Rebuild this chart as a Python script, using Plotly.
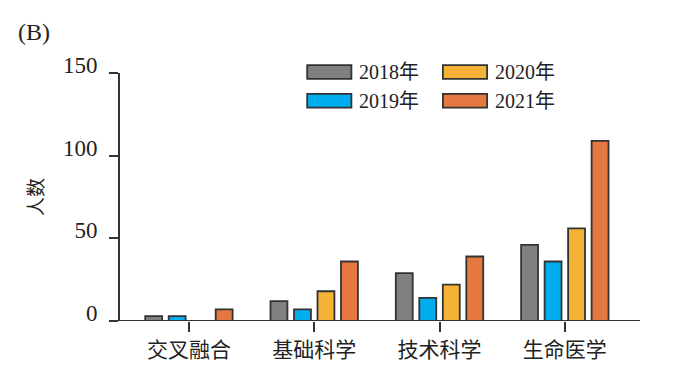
import plotly.graph_objects as go

categories = ["交叉融合", "基础科学", "技术科学", "生命医学"]
years = ["2018年", "2019年", "2020年", "2021年"]
values_2018 = [3, 12, 29, 46]
values_2019 = [3, 7, 14, 36]
values_2020 = [0, 18, 22, 56]
values_2021 = [7, 36, 39, 109]
series = [values_2018, values_2019, values_2020, values_2021]
colors = ["#808083", "#00aeef", "#f5b335", "#e57740"]
y_ticks = [0, 50, 100, 150]

serif = "Liberation Serif, Times New Roman, Noto Sans CJK SC, serif"
cjk = "Noto Sans CJK SC, sans-serif"
edge = "#333333"

fig = go.Figure()
for name, vals, col in zip(years, series, colors):
    fig.add_trace(go.Bar(
        x=categories, y=vals, name=name,
        marker=dict(color=col, line=dict(color=edge, width=1.8)),
        showlegend=False,
    ))

# custom legend (wide swatches like the reference)
leg_pos = [(0.360, 1.004), (0.360, 0.888), (0.621, 1.004), (0.621, 0.888)]
for (lx, ly), name, col in zip(leg_pos, years, colors):
    fig.add_shape(type="rect", xref="paper", yref="paper",
                  x0=lx, x1=lx + 0.085, y0=ly - 0.028, y1=ly + 0.028,
                  fillcolor=col, line=dict(color=edge, width=1.8))
    fig.add_annotation(xref="paper", yref="paper", x=lx + 0.096, y=ly,
                       text=name, showarrow=False, xanchor="left", yanchor="middle",
                       font=dict(family=serif, size=20, color="#222"))

# x axis baseline extending slightly left of the y axis
fig.add_shape(type="line", xref="paper", yref="y", x0=-0.02, x1=1.0, y0=0, y1=0,
              line=dict(color=edge, width=2), layer="above")

fig.add_annotation(xref="paper", yref="paper", x=-0.2, y=1.0, yshift=41,
                   text="(B)", showarrow=False, xanchor="left", yanchor="middle",
                   font=dict(family=serif, size=24, color="#222"))

fig.update_layout(
    width=692, height=371,
    margin=dict(l=112, r=60, t=65, b=58),
    paper_bgcolor="white", plot_bgcolor="white",
    barmode="group", bargap=0.25, bargroupgap=0.28,
    xaxis=dict(range=[-0.55, 3.6], showline=False, showgrid=False, zeroline=False,
               ticks="outside", ticklen=10, tickwidth=2, tickcolor=edge,
               tickfont=dict(family=cjk, size=21, color="#222")),
    yaxis=dict(range=[0, 150], tickvals=y_ticks, showline=True, linecolor=edge,
               linewidth=2, showgrid=False, zeroline=False,
               ticks="outside", ticklen=9, tickwidth=2, tickcolor=edge,
               ticklabelshift=-8, ticklabelstandoff=7,
               tickfont=dict(family=serif, size=23, color="#222"),
               title=dict(text="人数", font=dict(family=cjk, size=19, color="#222"),
                          standoff=14)),
)

fig.write_html("out.html")
